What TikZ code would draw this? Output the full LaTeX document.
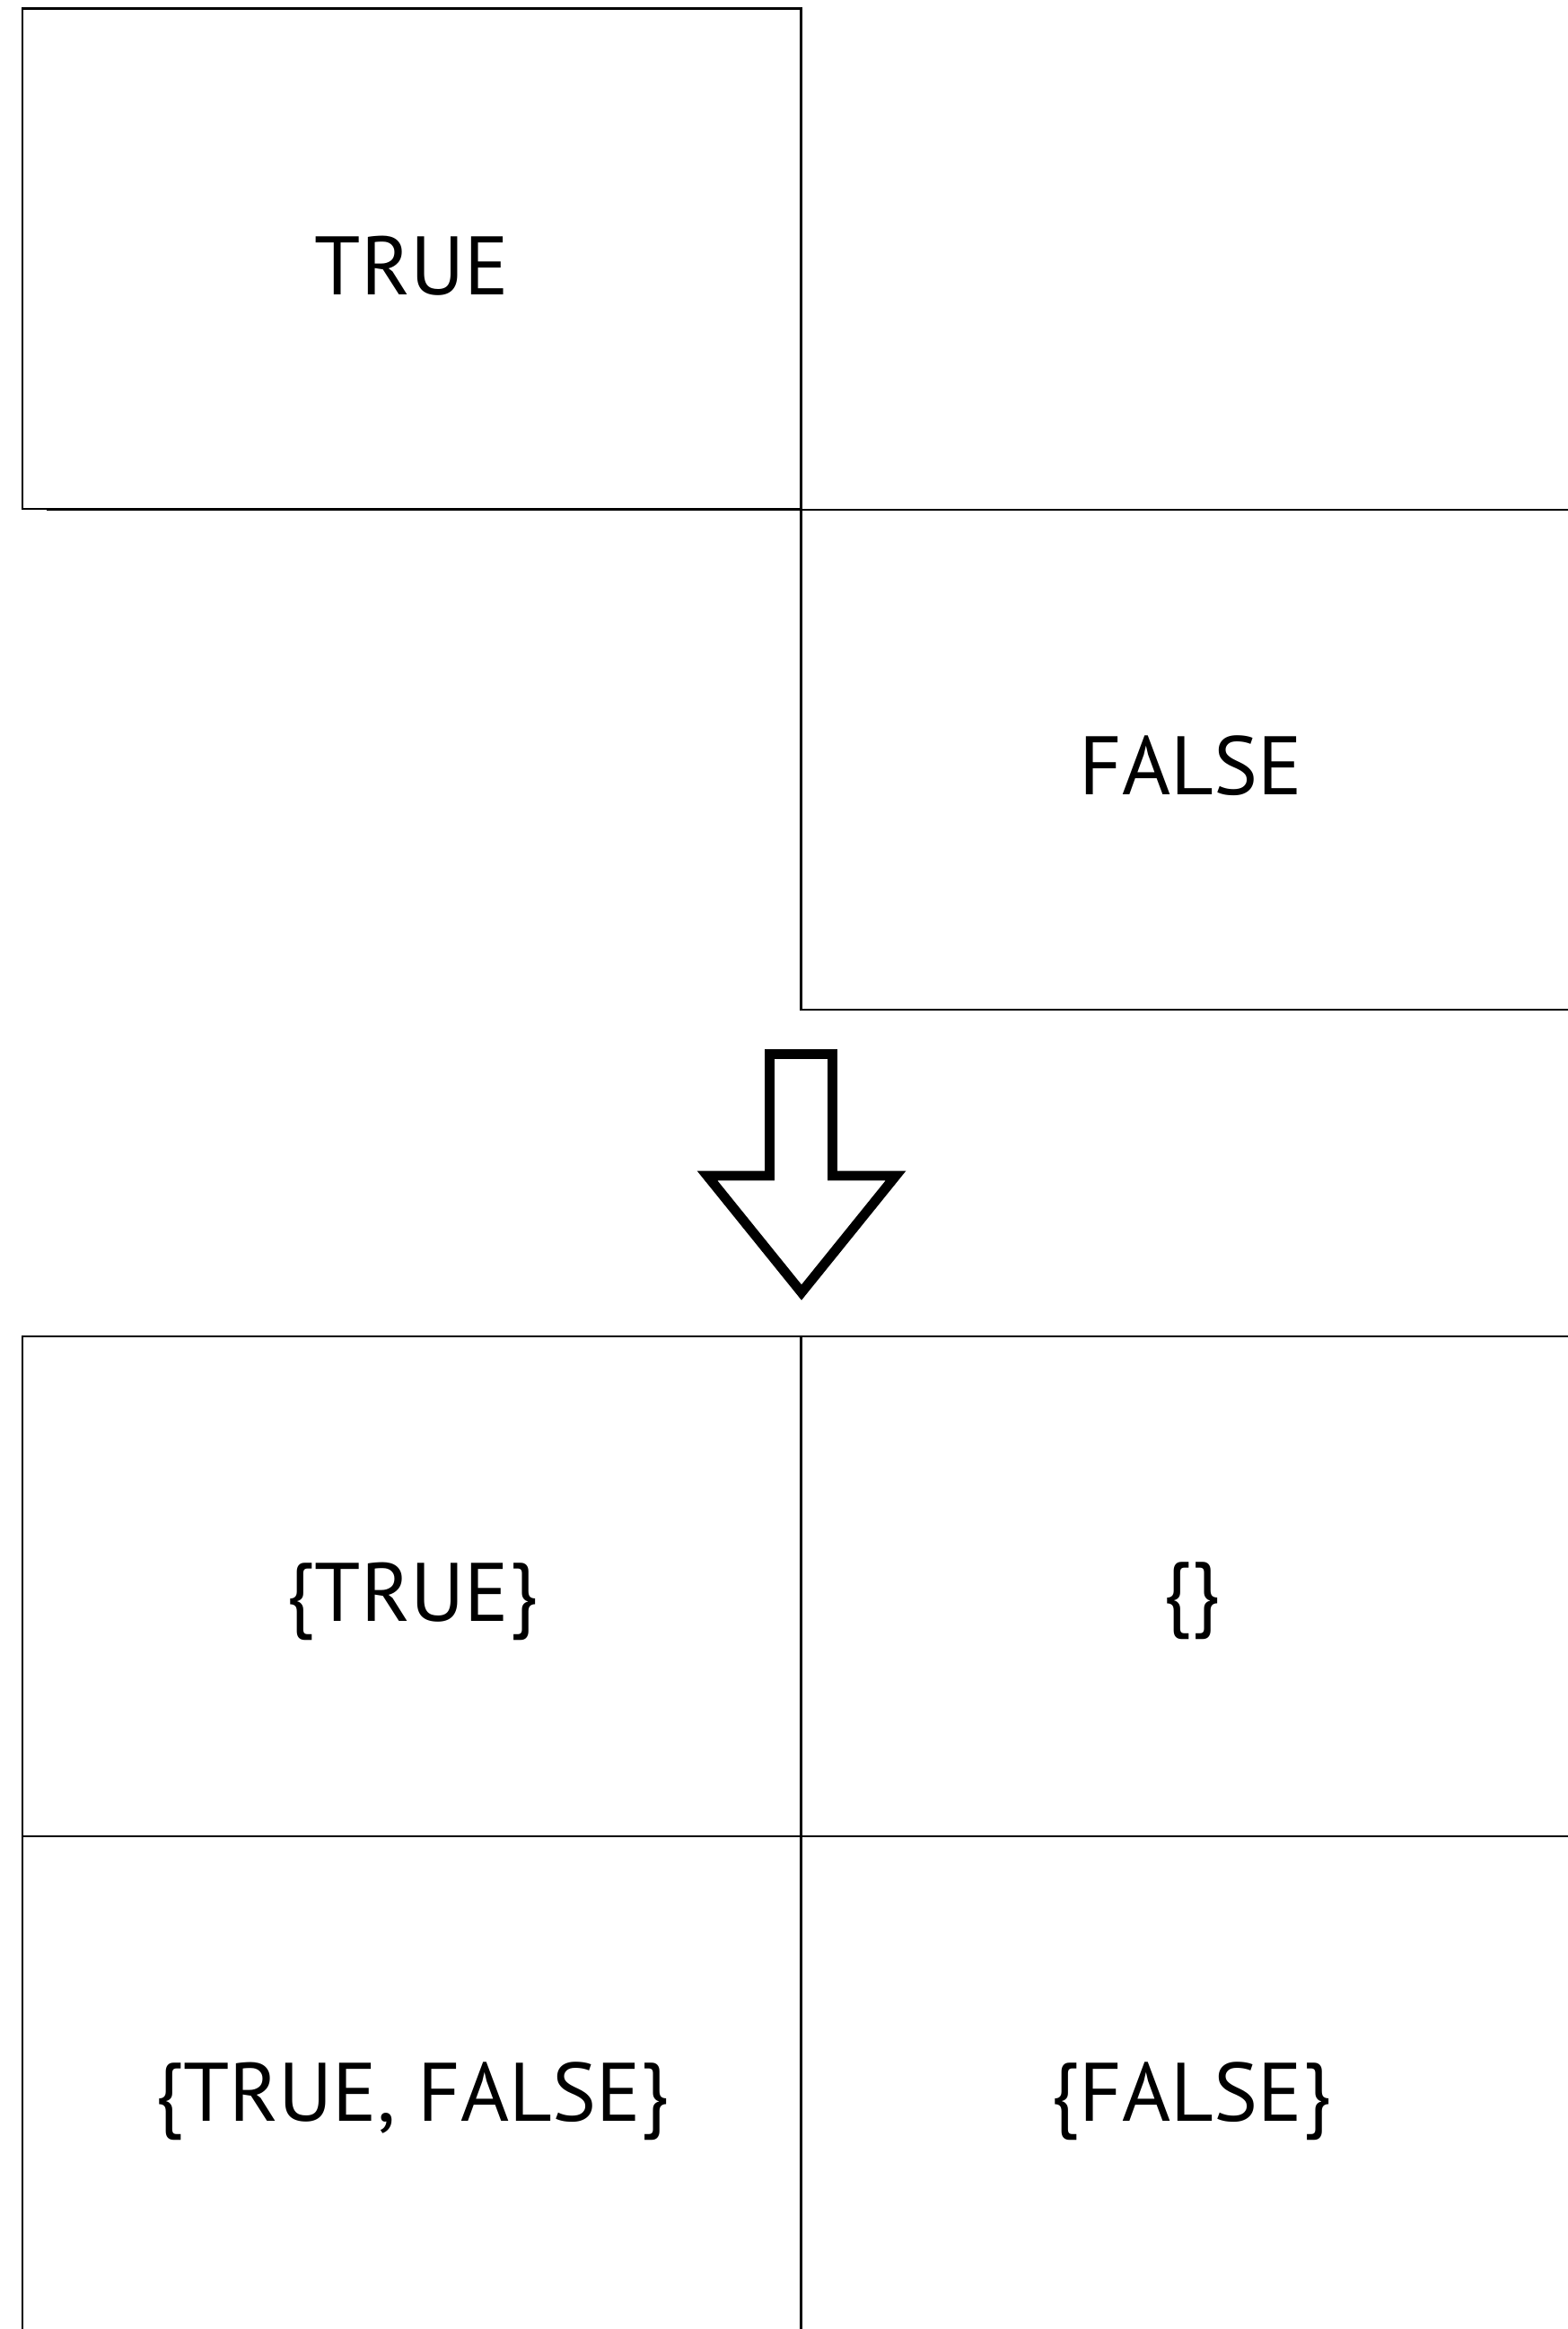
\documentclass[tikz,border=0pt]{standalone}
\usepackage{fontspec}
\setmainfont{PT Sans}
\usepackage{tikz}
\tikzset{
  cell/.style={draw=black, line width=0.8pt},
  val/.style={font=\fontsize{26.3}{31}\selectfont},
  bigarrow/.style={draw=black, line width=3.1pt, line join=miter, fill=white}
}

\begin{document}
\begin{tikzpicture}
			%%%%% START %%%%%
			\useasboundingbox (0, 0) rectangle (17.47, -25.95);
			\clip (0, 0) rectangle (17.47, -25.95);
			
			% before
			\draw[cell] (0.25, -0.095) rectangle (8.925, -5.67);
			\draw[cell] (0.52, -5.68) -- (17.61, -5.68);
			\draw[cell] (8.925, -5.68) rectangle (17.61, -11.25);
			
			\node[val] (true) at (4.59, -2.96) {TRUE};
			\node[val] (false) at (13.27, -8.53) {FALSE};
			
			% arrow
			\draw[bigarrow] (8.575, -11.745) -- (9.275, -11.745) -- (9.275, -13.10) -- (9.98, -13.10)
				-- (8.93, -14.40) -- (7.88, -13.10) -- (8.575, -13.10) -- cycle;
			
			% after
			\draw[cell] (0.25, -14.89) rectangle (8.925, -20.46);
			\draw[cell] (8.925, -14.89) rectangle (17.61, -20.46);
			\draw[cell] (0.25, -20.46) rectangle (8.925, -26.03);
			\draw[cell] (8.925, -20.46) rectangle (17.61, -26.03);
			
			\node[val] (ctrue) at (4.59, -17.84) {\{TRUE\}};
			\node[val] (cnone) at (13.27, -17.84) {\{\}};
			\node[val] (cboth) at (4.59, -23.41) {\{TRUE, FALSE\}};
			\node[val] (cfalse) at (13.27, -23.41) {\{FALSE\}};
			
			%%%%% END %%%%%
		\end{tikzpicture}
\end{document}
